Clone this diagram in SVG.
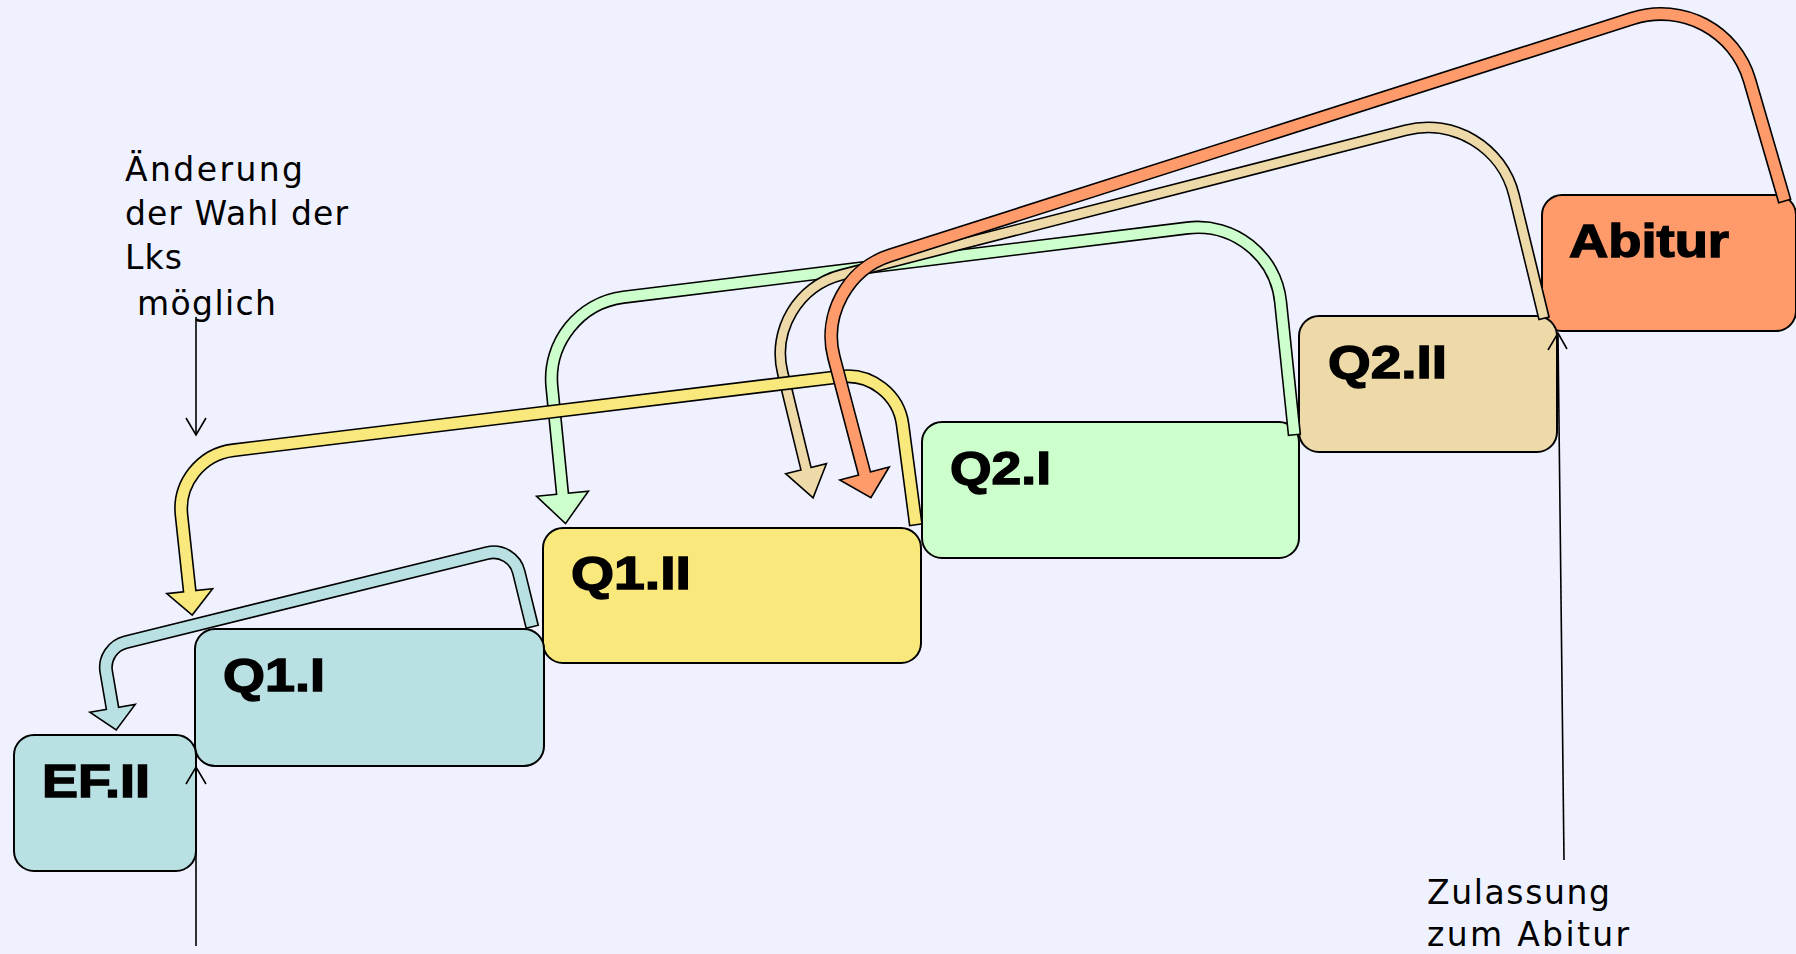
<svg xmlns="http://www.w3.org/2000/svg" width="1796" height="954" viewBox="0 0 1796 954">
<style>
.box{stroke:#000;stroke-width:2}
.lbl{font-family:"Liberation Sans",Arial,sans-serif;font-weight:bold;font-size:46px;fill:#000;stroke:#000;stroke-width:1.4}
.note{font-family:"DejaVu Sans","Verdana",sans-serif;font-size:33px;fill:#000}
.out{fill:none;stroke:#000;stroke-linejoin:round}
.head{stroke:#000;stroke-width:1.6;stroke-linejoin:miter}
.thin{fill:none;stroke:#000;stroke-width:1.6}
.cy{fill:#b9e0e3}.ye{fill:#f9e87c}.gr{fill:#ccffcc}.ta{fill:#eed9a9}.or{fill:#ff9b6a}
</style>
<rect x="0" y="0" width="1796" height="954" fill="#eff2fe"/>

<g id="node-abitur">
<rect class="box or" x="1542" y="195" width="254" height="136" rx="20"/>
<text class="lbl" x="1569" y="257" textLength="160" lengthAdjust="spacingAndGlyphs">Abitur</text>
</g>
<g id="node-q2ii">
<rect class="box ta" x="1299" y="316" width="258" height="136" rx="20"/>
<text class="lbl" x="1328" y="378" textLength="119" lengthAdjust="spacingAndGlyphs">Q2.II</text>
</g>
<g id="node-q2i">
<rect class="box gr" x="922" y="422" width="377" height="136" rx="20"/>
<text class="lbl" x="950" y="484" textLength="101" lengthAdjust="spacingAndGlyphs">Q2.I</text>
</g>
<g id="node-q1ii">
<rect class="box ye" x="543" y="528" width="378" height="135" rx="20"/>
<text class="lbl" x="571" y="589" textLength="120" lengthAdjust="spacingAndGlyphs">Q1.II</text>
</g>
<g id="node-q1i">
<rect class="box cy" x="195" y="629" width="349" height="137" rx="20"/>
<text class="lbl" x="223" y="691" textLength="102" lengthAdjust="spacingAndGlyphs">Q1.I</text>
</g>
<g id="node-efii">
<rect class="box cy" x="14" y="735" width="182" height="136" rx="20"/>
<text class="lbl" x="42" y="797" textLength="108" lengthAdjust="spacingAndGlyphs">EF.II</text>
</g>

<g id="connectors">
<!-- cyan: Q1.I -> EF.II -->
<path class="out" stroke-width="14" d="M532.4,627.5 L518.8,572.1 C515.4,558.2 501.3,549.6 487.4,553 L125.5,642.2 C112.7,645.3 104,658.5 106.2,671.5 L112.5,708.3"/>
<polygon class="head" fill="#b9e0e3" points="89.8,712.2 135.2,704.4 116.2,730"/>
<path fill="none" stroke="#b9e0e3" stroke-width="10.8" d="M532,626 L518.8,572.1 C515.4,558.2 501.3,549.6 487.4,553 L125.5,642.2 C112.7,645.3 104,658.5 106.2,671.5 L113,711.3"/>

<!-- green: Q2.I -> Q1.II -->
<path class="out" stroke-width="13.5" d="M1294.5,435.5 L1280.6,302.1 C1275.8,255.6 1233.8,222.3 1187.4,228 L623.4,297.2 C579.7,302.6 547.6,342.8 551.9,386.6 L562.5,493.7"/>
<polygon class="head" fill="#ccffcc" points="536.6,496.3 588.4,491.1 565.5,523.6"/>
<path fill="none" stroke="#ccffcc" stroke-width="10.3" d="M1294.3,434 L1280.6,302.1 C1275.8,255.6 1233.8,222.3 1187.4,228 L623.4,297.2 C579.7,302.6 547.6,342.8 551.9,386.6 L562.8,496.7"/>

<!-- tan: Q2.II -> Q1.II -->
<path class="out" stroke-width="12" d="M1544.2,319 L1514.1,195.4 C1502.4,147.3 1453.7,117.9 1405.7,130.2 L841.2,274.9 C798.6,285.8 772.2,329.7 782.6,372.5 L806,468.7"/>
<polygon class="head" fill="#eed9a9" points="785.6,473.7 826.4,463.7 813.1,497.9"/>
<path fill="none" stroke="#eed9a9" stroke-width="8.8" d="M1543.8,317.5 L1514.1,195.4 C1502.4,147.3 1453.7,117.9 1405.7,130.2 L841.2,274.9 C798.6,285.8 772.2,329.7 782.6,372.5 L806.7,471.6"/>

<!-- yellow: Q1.II -> Q1.I -->
<path class="out" stroke-width="14" d="M915.9,525.5 L902.6,424.6 C898.6,394.6 870.8,373 840.8,376.6 L233,450.3 C201.3,454.2 178.1,483.3 181.5,515 L189.7,591.2"/>
<polygon class="head" fill="#f9e87c" points="166.8,593.6 212.6,588.8 192.2,615.1"/>
<path fill="none" stroke="#f9e87c" stroke-width="10.8" d="M915.7,524 L902.6,424.6 C898.6,394.6 870.8,373 840.8,376.6 L233,450.3 C201.3,454.2 178.1,483.3 181.5,515 L190,594.2"/>

<!-- orange: Abitur -> Q1.II -->
<path class="out" stroke-width="14" d="M1784.9,201.7 L1749.7,80.7 C1735.1,30.5 1682.5,2.5 1632.7,18.4 L889.8,255.5 C847.9,268.9 822.7,314.6 833.9,357.2 L864.5,473.5"/>
<polygon class="head" fill="#ff9b6a" points="839.8,480 889.2,467 870.9,497.7"/>
<path fill="none" stroke="#ff9b6a" stroke-width="10.8" d="M1784.5,200.3 L1749.7,80.7 C1735.1,30.5 1682.5,2.5 1632.7,18.4 L889.8,255.5 C847.9,268.9 822.7,314.6 833.9,357.2 L865.3,476.4"/>

<!-- thin annotation arrows -->
<path class="thin" d="M196,317 L196,434"/>
<path class="thin" d="M186,418 L196,435 L206,418"/>
<path class="thin" d="M196,946 L196,768"/>
<path class="thin" d="M186,784 L196,767 L206,784"/>
<path class="thin" d="M1564,860 L1558,334"/>
<path class="thin" d="M1548,350 L1558,333 L1567,349"/>
</g>

<g id="notes">
<text class="note" x="125" y="181" textLength="178">Änderung</text>
<text class="note" x="125" y="225" textLength="223">der Wahl der</text>
<text class="note" x="125" y="269" textLength="57">Lks</text>
<text class="note" x="125" y="315" textLength="151" xml:space="preserve" style="white-space:pre"> möglich</text>
<text class="note" x="1427" y="904" textLength="183">Zulassung</text>
<text class="note" x="1427" y="946" textLength="202">zum Abitur</text>
</g>
</svg>
